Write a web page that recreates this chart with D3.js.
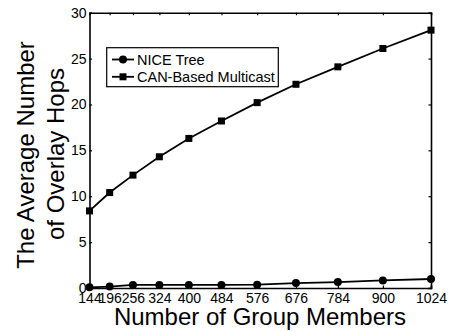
<!DOCTYPE html>
<html lang="en">
<head>
<meta charset="UTF-8">
<script src="https://d3js.org/d3.v7.min.js"></script>
<style>
  body { margin: 0; background: #fff; }
  svg text { font-family: "Liberation Sans", Arial, sans-serif; fill: #000; }
</style>
</head>
<body>
<script>
// group sizes on the x axis
var members = [144, 196, 256, 324, 400, 484, 576, 676, 784, 900, 1024];
var niceTree = [0.07, 0.15, 0.33, 0.33, 0.33, 0.33, 0.36, 0.54, 0.65, 0.83, 0.98];
var canMulticast = [8.4, 10.4, 12.3, 14.3, 16.3, 18.2, 20.2, 22.2, 24.1, 26.1, 28.1];
var yTicks = [0, 5, 10, 15, 20, 25, 30];
var seriesNames = ["NICE Tree", "CAN-Based Multicast"];

var W = 452, H = 332;
var m = {left: 89.5, right: 21, top: 12.7, bottom: 44};

var svg = d3.select("body").append("svg")
  .attr("width", W).attr("height", H);

var x = d3.scaleLinear().domain([144, 1024]).range([m.left, W - m.right]);
var y = d3.scaleLinear().domain([0, 30]).range([H - m.bottom, m.top]);

// axes, ticks pointing inward
var gx = svg.append("g").attr("transform", "translate(0," + (H - m.bottom) + ")")
  .call(d3.axisBottom(x).tickValues(members).tickFormat(d3.format("d")).tickSize(-2.5).tickPadding(5));
var gxt = svg.append("g").attr("transform", "translate(0," + m.top + ")")
  .call(d3.axisTop(x).tickValues(members).tickFormat("").tickSize(-2.5));
var gy = svg.append("g").attr("transform", "translate(" + m.left + ",0)")
  .call(d3.axisLeft(y).tickValues(yTicks).tickSize(-2.5).tickPadding(3));
var gyr = svg.append("g").attr("transform", "translate(" + (W - m.right) + ",0)")
  .call(d3.axisRight(y).tickValues(yTicks).tickFormat("").tickSize(-2.5));

[gx, gxt, gy, gyr].forEach(function(g) {
  g.select(".domain").attr("stroke", "#000").attr("stroke-width", 1.6);
  g.selectAll(".tick line").attr("stroke", "#000").attr("stroke-width", 1.2);
  g.selectAll("text").style("font-size", "14px").attr("fill", "#000");
});
gy.selectAll("text").attr("dx", 0);

// lines
var line = d3.line().x(function(d) { return x(d[0]); }).y(function(d) { return y(d[1]); });
var niceData = members.map(function(d, i) { return [d, niceTree[i]]; });
var canData = members.map(function(d, i) { return [d, canMulticast[i]]; });

svg.append("path").datum(canData).attr("d", line)
  .attr("fill", "none").attr("stroke", "#000").attr("stroke-width", 1.8);
svg.append("path").datum(niceData).attr("d", line)
  .attr("fill", "none").attr("stroke", "#000").attr("stroke-width", 1.8);

svg.selectAll(".sq").data(canData).enter().append("rect")
  .attr("x", function(d) { return x(d[0]) - 3.5; })
  .attr("y", function(d) { return y(d[1]) - 3.5; })
  .attr("width", 7).attr("height", 7).attr("fill", "#000");
svg.selectAll(".dot").data(niceData).enter().append("circle")
  .attr("cx", function(d) { return x(d[0]); })
  .attr("cy", function(d) { return y(d[1]); })
  .attr("r", 4).attr("fill", "#000");

// legend
var lg = svg.append("g");
lg.append("rect").attr("x", 106.7).attr("y", 47.7).attr("width", 171.6).attr("height", 39)
  .attr("fill", "#fff").attr("stroke", "#000").attr("stroke-width", 1.2);
seriesNames.forEach(function(name, i) {
  var cy = 59.5 + i * 17.3;
  lg.append("line").attr("x1", 112).attr("x2", 134).attr("y1", cy).attr("y2", cy)
    .attr("stroke", "#000").attr("stroke-width", 1.8);
  if (i === 0) {
    lg.append("circle").attr("cx", 123).attr("cy", cy).attr("r", 4).attr("fill", "#000");
  } else {
    lg.append("rect").attr("x", 119.5).attr("y", cy - 3.5).attr("width", 7).attr("height", 7).attr("fill", "#000");
  }
  lg.append("text").attr("x", 137).attr("y", cy + 5).style("font-size", "14.5px").text(name);
});

// axis titles
svg.append("text").attr("x", 260).attr("y", 325).attr("text-anchor", "middle")
  .style("font-size", "24px").text("Number of Group Members");
svg.append("text").attr("transform", "translate(34,155) rotate(-90)").attr("text-anchor", "middle")
  .style("font-size", "24px").text("The Average Number");
svg.append("text").attr("transform", "translate(64,154) rotate(-90)").attr("text-anchor", "middle")
  .style("font-size", "24px").text("of Overlay Hops");
</script>
</body>
</html>
